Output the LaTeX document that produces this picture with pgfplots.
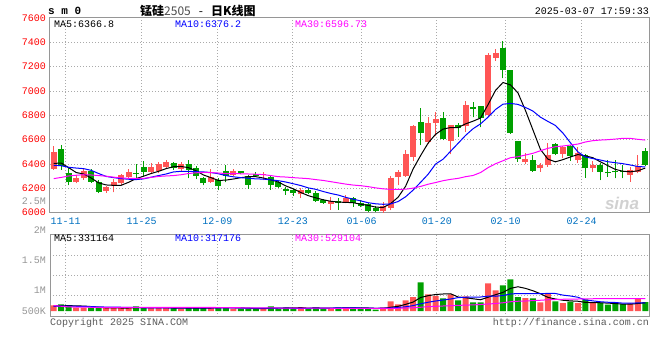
\documentclass[border=0pt]{standalone}
\usepackage{fontspec}
\usepackage{pgfplots}
\usepackage{pgfplotstable}
\pgfplotsset{compat=1.18}
\setmonofont{Liberation Mono}
\newfontfamily\cjk{Noto Sans CJK SC}
\newfontfamily\wmfont{Liberation Sans}
\definecolor{upred}{RGB}{255,85,85}
\definecolor{dngreen}{RGB}{0,160,0}
\definecolor{lblred}{RGB}{255,0,0}
\definecolor{lblblue}{RGB}{0,112,192}
\definecolor{bordergray}{RGB}{150,150,150}
\definecolor{gridgray}{RGB}{170,170,170}
\definecolor{txtgray}{RGB}{150,150,150}
\definecolor{cpgray}{RGB}{90,90,90}
\definecolor{ma10c}{RGB}{0,0,255}
\definecolor{ma30c}{RGB}{255,0,255}
\newcommand{\mono}{\ttfamily\fontsize{10bp}{12bp}\selectfont}

% rising candles: index open high low close volume(K)
\pgfplotstableread{
i o h l c v
0 6360 6545 6355 6495 228
3 6250 6310 6240 6285 132
4 6282 6370 6270 6340 132
7 6181 6222 6162 6208 120
8 6216 6277 6167 6249 120
9 6241 6318 6227 6310 120
10 6296 6359 6282 6337 120
13 6331 6408 6318 6375 120
14 6340 6414 6323 6400 120
15 6378 6436 6370 6416 120
17 6359 6414 6342 6397 92
21 6249 6360 6245 6290 148
24 6310 6360 6305 6346 92
28 6306 6337 6268 6312 92
33 6150 6200 6123 6187 148
37 6072 6131 6025 6100 92
39 6082 6145 6077 6118 148
44 6016 6090 6000 6058 148
45 6041 6304 6022 6288 388
46 6296 6351 6227 6337 268
47 6301 6515 6296 6482 428
48 6460 6720 6427 6712 560
50 6583 6783 6564 6740 668
51 6740 6830 6630 6767 600
53 6592 6720 6482 6720 668
55 6712 6920 6665 6885 588
58 6803 7309 6783 7296 1108
59 7274 7345 7249 7309 828
63 6414 6493 6400 6438 520
65 6364 6405 6337 6392 348
66 6392 6575 6378 6474 692
68 6482 6548 6446 6537 320
70 6433 6542 6411 6493 320
72 6364 6427 6337 6392 332
77 6310 6373 6255 6351 308
78 6337 6474 6323 6383 492
}\uptab

% falling candles
\pgfplotstableread{
i o h l c v
1 6520 6555 6355 6380 268
2 6325 6370 6225 6250 228
5 6345 6360 6245 6255 132
6 6250 6265 6160 6173 120
11 6330 6400 6277 6322 188
12 6373 6427 6304 6337 120
16 6408 6419 6353 6364 120
18 6400 6436 6282 6353 120
19 6364 6386 6275 6305 120
20 6285 6290 6225 6240 120
22 6268 6285 6185 6218 148
23 6345 6388 6250 6303 148
25 6340 6345 6318 6325 92
26 6304 6310 6195 6228 92
27 6318 6337 6296 6304 92
29 6290 6304 6190 6228 188
30 6252 6262 6205 6215 92
31 6198 6214 6148 6177 148
32 6185 6195 6140 6163 92
34 6185 6200 6150 6163 92
35 6165 6180 6090 6100 148
36 6108 6115 6075 6080 92
38 6099 6118 6025 6080 148
40 6118 6131 6049 6077 148
41 6082 6104 6044 6055 80
42 6071 6080 6008 6014 80
43 6041 6055 6005 6014 52
49 6745 6863 6556 6657 1148
52 6778 6830 6597 6605 508
54 6720 6734 6624 6698 428
56 6866 6912 6783 6849 348
57 6876 6876 6701 6781 348
60 7350 7411 7104 7172 1028
61 7172 7175 6650 6657 1268
62 6589 6589 6419 6438 560
64 6433 6474 6337 6345 508
67 6564 6575 6474 6482 388
69 6548 6556 6425 6466 372
71 6474 6480 6288 6364 468
73 6392 6405 6268 6337 332
74 6337 6433 6296 6323 252
75 6337 6433 6282 6331 280
76 6340 6392 6282 6333 280
79 6509 6531 6383 6392 360
}\dntab

% moving averages: price MA5 MA10 MA30, volume MA5 MA10 MA30 (K)
\pgfplotstableread{
i m5 m10 m30 v5 v10 v30
0 6405 6390 6280 200 190 220
1 6408 6386 6290 205 192 190
2 6370 6373 6302 215 195 165
3 6330 6367 6308 205 190 155
4 6318 6362 6312 198 185 152
5 6285 6348 6310 178 175 150
6 6245 6322 6305 149 165 150
7 6228 6298 6300 127 158 149
8 6225 6288 6292 122 152 149
9 6225 6280 6286 120 150 148
10 6250 6275 6282 120 149 148
11 6280 6272 6281 134 141 148
12 6300 6278 6282 134 130 148
13 6322 6292 6290 134 129 147
14 6340 6305 6298 134 128 147
15 6362 6318 6302 134 127 147
16 6378 6335 6305 120 127 147
17 6380 6340 6312 114 124 147
18 6370 6340 6322 114 124 146
19 6345 6337 6328 114 124 146
20 6310 6335 6331 114 124 145
21 6288 6330 6330 120 120 142
22 6265 6320 6326 131 123 139
23 6268 6305 6322 137 126 136
24 6277 6295 6321 131 123 133
25 6288 6288 6320 126 120 130
26 6296 6283 6318 114 117 128
27 6296 6278 6316 92 114 126
28 6285 6276 6313 92 114 124
29 6270 6270 6305 111 117 122
30 6252 6263 6296 111 114 120
31 6220 6252 6293 122 114 118
32 6196 6238 6288 122 109 117
33 6166 6223 6284 134 109 115
34 6140 6204 6280 114 109 114
35 6122 6192 6272 126 114 112
36 6106 6174 6265 114 114 111
37 6094 6158 6255 114 118 110
38 6087 6145 6245 114 124 108
39 6085 6126 6235 126 120 107
40 6082 6111 6227 126 126 105
41 6070 6097 6222 122 119 104
42 6060 6082 6214 121 118 103
43 6046 6073 6204 106 108 101
44 6043 6069 6196 102 114 100
45 6075 6072 6192 150 120 105
46 6128 6092 6192 187 140 110
47 6218 6131 6193 266 170 118
48 6360 6186 6202 358 215 130
49 6470 6250 6216 540 290 150
50 6572 6316 6234 614 350 173
51 6645 6400 6248 660 400 187
52 6687 6440 6263 680 440 200
53 6700 6505 6274 690 480 212
54 6700 6570 6282 560 535 225
55 6730 6635 6296 530 550 235
56 6752 6690 6306 490 555 245
57 6778 6730 6330 450 560 260
58 6888 6785 6370 550 595 280
59 7005 6848 6402 650 590 300
60 7070 6892 6427 745 620 330
61 7050 6898 6452 905 680 370
62 6985 6890 6460 970 700 390
63 6840 6865 6474 905 690 400
64 6680 6835 6488 810 700 415
65 6520 6785 6509 690 690 430
66 6440 6750 6529 545 705 450
67 6418 6717 6542 480 700 460
68 6436 6655 6548 430 636 470
69 6458 6575 6556 405 600 475
70 6478 6500 6564 390 550 480
71 6467 6458 6581 345 440 485
72 6452 6445 6592 335 405 490
73 6418 6433 6597 330 370 492
74 6387 6419 6600 315 350 495
75 6356 6411 6605 300 340 497
76 6341 6403 6611 275 315 498
77 6336 6392 6611 272 310 499
78 6344 6380 6603 300 325 500
79 6367 6376 6597 330 320 500
}\matab

\pgfplotsset{
  skpanel/.style={
    scale only axis, width=599bp, xmin=-0.5, xmax=79.5,
    axis line style={bordergray, line width=1bp},
    tick style={draw=none},
    grid=major,
    major grid style={gridgray, line width=1bp, dash pattern=on 1bp off 2bp},
    xtick={1.6,11.74,21.84,31.94,41.12,51.17,60.34,70.49},
  },
  candle/.style={only marks, mark=*, mark size=0pt,
    mark options={draw=none, fill=none}, forget plot,
    error bars/.cd, y dir=plus, y explicit, error mark=none},
}

\begin{document}
\begin{tikzpicture}
\path[use as bounding box] (0bp,0bp) rectangle (660bp,-360bp);

% ---------------- price panel ----------------
\begin{axis}[skpanel, at={(50bp,-18bp)}, anchor=north west, height=194.7bp,
  ymin=6000, ymax=7600,
  ytick={6000,6200,6400,6600,6800,7000,7200,7400,7600},
  yticklabels={6000,6200,6400,6600,6800,7000,7200,7400,7600},
  yticklabel style={font=\mono, text=lblred, inner sep=0pt, anchor=east, xshift=-4bp},
  xticklabels={11-11,11-25,12-09,12-23,01-06,01-20,02-10,02-24},
  xticklabel style={font=\mono, text=lblblue, inner sep=0pt, anchor=center, yshift=-8.6bp},
]
% wicks
\addplot[candle, error bar style={line width=1bp, color=upred}]
  table[x=i, y=l, y error plus expr=\thisrow{h}-\thisrow{l}] {\uptab};
\addplot[candle, error bar style={line width=1bp, color=dngreen}]
  table[x=i, y=l, y error plus expr=\thisrow{h}-\thisrow{l}] {\dntab};
% bodies
\addplot[candle, error bar style={line width=6bp, color=upred}]
  table[x=i, y=o, y error plus expr={max(\thisrow{c}-\thisrow{o},8)}] {\uptab};
\addplot[candle, error bar style={line width=6bp, color=dngreen}]
  table[x=i, y=c, y error plus expr={max(\thisrow{o}-\thisrow{c},8)}] {\dntab};
% moving averages
\addplot[black, line width=1bp, mark=none] table[x=i, y=m5] {\matab};
\addplot[ma10c, line width=1bp, mark=none] table[x=i, y=m10] {\matab};
\addplot[ma30c, line width=1bp, mark=none] table[x=i, y=m30] {\matab};
\end{axis}

% ---------------- volume panel ----------------
\begin{axis}[skpanel, at={(50bp,-234bp)}, anchor=north west, height=82.7bp,
  ymin=-228, ymax=3080,
  ytick={628,1428,2228}, yticklabels={},
  xticklabels={},
]
\addplot[ybar, bar width=6bp, bar shift=0pt, fill=upred, draw=none] table[x=i, y=v] {\uptab};
\addplot[ybar, bar width=6bp, bar shift=0pt, fill=dngreen, draw=none] table[x=i, y=v] {\dntab};
\addplot[black, line width=1bp, mark=none] table[x=i, y=v5] {\matab};
\addplot[ma10c, line width=1bp, mark=none] table[x=i, y=v10] {\matab};
\addplot[ma30c, line width=1bp, mark=none] table[x=i, y=v30] {\matab};
\end{axis}

% ---------------- texts ----------------
\node[anchor=west, inner sep=0pt, font=\ttfamily\bfseries\fontsize{11bp}{12bp}\selectfont] at (48bp,-11.3bp) {s m 0};
\node[anchor=west, inner sep=0pt] at (140bp,-11bp)
  {\cjk\fontsize{12bp}{14bp}\selectfont \textbf{锰硅}\textcolor{black!70}{2505}\hspace{8bp}-\hspace{8bp}\textbf{日K线图}};
\node[anchor=east, inner sep=0pt, font=\mono] at (649bp,-11.7bp) {2025-03-07 17:59:33};

\node[anchor=west, inner sep=0pt, font=\mono, text=black] at (54bp,-24bp) {MA5:6366.8};
\node[anchor=west, inner sep=0pt, font=\mono, text=ma10c] at (175bp,-24bp) {MA10:6376.2};
\node[anchor=west, inner sep=0pt, font=\mono, text=ma30c] at (295bp,-24bp) {MA30:6596.73};

\node[anchor=west, inner sep=0pt, font=\mono, text=black] at (54bp,-238.3bp) {MA5:331164};
\node[anchor=west, inner sep=0pt, font=\mono, text=ma10c] at (175bp,-238.3bp) {MA10:317176};
\node[anchor=west, inner sep=0pt, font=\mono, text=ma30c] at (295bp,-238.3bp) {MA30:529104};

\node[anchor=east, inner sep=0pt, font=\mono, text=txtgray] at (46bp,-201.3bp) {2.5M};
\node[anchor=east, inner sep=0pt, font=\mono, text=txtgray] at (46bp,-230bp) {2M};
\node[anchor=east, inner sep=0pt, font=\mono, text=txtgray] at (46bp,-260bp) {1.5M};
\node[anchor=east, inner sep=0pt, font=\mono, text=txtgray] at (46bp,-290bp) {1M};
\node[anchor=east, inner sep=0pt, font=\mono, text=txtgray] at (46bp,-310.7bp) {500K};

\node[anchor=west, inner sep=0pt, font=\mono, text=cpgray] at (50bp,-323bp) {Copyright 2025 SINA.COM};
\node[anchor=east, inner sep=0pt, font=\mono, text=cpgray] at (649bp,-323bp) {http://finance.sina.com.cn};

\node[inner sep=0pt, text=black!18, font=\wmfont\bfseries\itshape\fontsize{17bp}{17bp}\selectfont] at (622bp,-203bp) {sina};
\end{tikzpicture}
\end{document}
